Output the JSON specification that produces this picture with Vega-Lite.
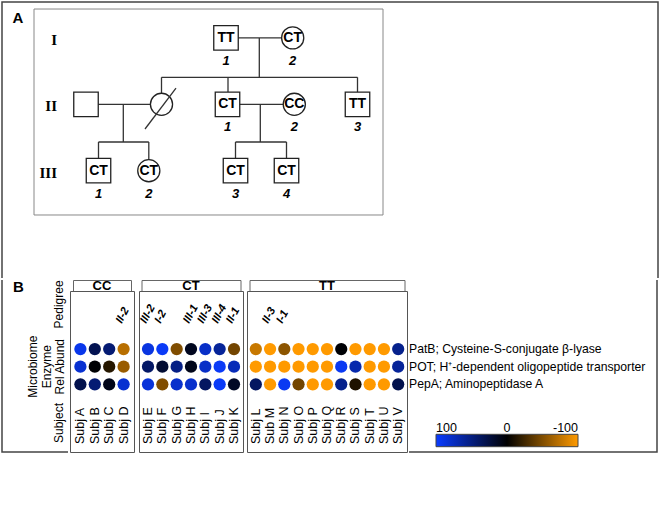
{
  "$schema": "https://vega.github.io/schema/vega-lite/v6.json",
  "padding": {"left": 1, "top": 1, "right": 5, "bottom": 5},
  "background": "white",
  "config": {
    "font": "Liberation Sans",
    "view": {"stroke": "#555"},
    "legend": {"labelFont": "Liberation Sans"}
  },
  "datasets": {
    "people": [
      {"id": "I-1", "gen": 1, "col": 22.4, "sex": "M", "geno": "TT", "num": "1"},
      {"id": "I-2", "gen": 1, "col": 29.07, "sex": "F", "geno": "CT", "num": "2"},
      {"id": "II-0", "gen": 2, "col": 8.4, "sex": "M", "geno": "", "num": ""},
      {"id": "II-d", "gen": 2, "col": 15.95, "sex": "F", "geno": "", "num": ""},
      {"id": "II-1", "gen": 2, "col": 22.55, "sex": "M", "geno": "CT", "num": "1"},
      {"id": "II-2", "gen": 2, "col": 29.23, "sex": "F", "geno": "CC", "num": "2"},
      {"id": "II-3", "gen": 2, "col": 35.55, "sex": "M", "geno": "TT", "num": "3"},
      {"id": "III-1", "gen": 3, "col": 9.65, "sex": "M", "geno": "CT", "num": "1"},
      {"id": "III-2", "gen": 3, "col": 14.68, "sex": "F", "geno": "CT", "num": "2"},
      {"id": "III-3", "gen": 3, "col": 23.35, "sex": "M", "geno": "CT", "num": "3"},
      {"id": "III-4", "gen": 3, "col": 28.45, "sex": "M", "geno": "CT", "num": "4"}
    ],
    "generations": [
      {"gen": 1, "roman": "I"},
      {"gen": 2, "roman": "II"},
      {"gen": 3, "roman": "III"}
    ],
    "links": [
      {"col": 22.4, "col2": 29.07, "gen": 1, "gen2": 1},
      {"col": 25.73, "col2": 25.73, "gen": 1, "gen2": 1.593},
      {"col": 15.95, "col2": 35.55, "gen": 1.593, "gen2": 1.593},
      {"col": 15.95, "col2": 15.95, "gen": 1.593, "gen2": 2},
      {"col": 22.6, "col2": 22.6, "gen": 1.593, "gen2": 2},
      {"col": 35.55, "col2": 35.55, "gen": 1.593, "gen2": 2},
      {"col": 8.4, "col2": 15.95, "gen": 2, "gen2": 2},
      {"col": 12.13, "col2": 12.13, "gen": 2, "gen2": 2.568},
      {"col": 9.65, "col2": 14.68, "gen": 2.568, "gen2": 2.568},
      {"col": 9.65, "col2": 9.65, "gen": 2.568, "gen2": 3},
      {"col": 14.68, "col2": 14.68, "gen": 2.568, "gen2": 3},
      {"col": 22.55, "col2": 29.23, "gen": 2, "gen2": 2},
      {"col": 25.83, "col2": 25.83, "gen": 2, "gen2": 2.568},
      {"col": 23.35, "col2": 28.45, "gen": 2.568, "gen2": 2.568},
      {"col": 23.35, "col2": 23.35, "gen": 2.568, "gen2": 3},
      {"col": 28.45, "col2": 28.45, "gen": 2.568, "gen2": 3}
    ],
    "deceased": [
      {"col": 14.3, "col2": 17.4, "gen": 2.372, "gen2": 1.755}
    ],
    "enzymes": [
      {"enzyme": "PatB; Cysteine-S-conjugate β-lyase"},
      {"enzyme": "POT; H⁺-dependent oligopeptide transporter"},
      {"enzyme": "PepA; Aminopeptidase A"}
    ],
    "subjects": [
      {"id": "A", "label": "Subj A", "group": "CC", "ped": "", "PatB; Cysteine-S-conjugate β-lyase": 92, "POT; H⁺-dependent oligopeptide transporter": 82, "PepA; Aminopeptidase A": 30},
      {"id": "B", "label": "Subj B", "group": "CC", "ped": "", "PatB; Cysteine-S-conjugate β-lyase": 32, "POT; H⁺-dependent oligopeptide transporter": 1, "PepA; Aminopeptidase A": 45},
      {"id": "C", "label": "Subj C", "group": "CC", "ped": "", "PatB; Cysteine-S-conjugate β-lyase": 45, "POT; H⁺-dependent oligopeptide transporter": -15, "PepA; Aminopeptidase A": 10},
      {"id": "D", "label": "Subj D", "group": "CC", "ped": "II-2", "PatB; Cysteine-S-conjugate β-lyase": -72, "POT; H⁺-dependent oligopeptide transporter": -60, "PepA; Aminopeptidase A": 82},
      {"id": "E", "label": "Subj E", "group": "CT", "ped": "III-2", "PatB; Cysteine-S-conjugate β-lyase": 88, "POT; H⁺-dependent oligopeptide transporter": 40, "PepA; Aminopeptidase A": 85},
      {"id": "F", "label": "Subj F", "group": "CT", "ped": "I-2", "PatB; Cysteine-S-conjugate β-lyase": 97, "POT; H⁺-dependent oligopeptide transporter": 20, "PepA; Aminopeptidase A": -50},
      {"id": "G", "label": "Subj G", "group": "CT", "ped": "", "PatB; Cysteine-S-conjugate β-lyase": -50, "POT; H⁺-dependent oligopeptide transporter": 52, "PepA; Aminopeptidase A": 80},
      {"id": "H", "label": "Subj H", "group": "CT", "ped": "III-1", "PatB; Cysteine-S-conjugate β-lyase": 12, "POT; H⁺-dependent oligopeptide transporter": 10, "PepA; Aminopeptidase A": 80},
      {"id": "I", "label": "Subj I", "group": "CT", "ped": "III-3", "PatB; Cysteine-S-conjugate β-lyase": 78, "POT; H⁺-dependent oligopeptide transporter": 78, "PepA; Aminopeptidase A": 38},
      {"id": "J", "label": "Subj J", "group": "CT", "ped": "III-4", "PatB; Cysteine-S-conjugate β-lyase": 60, "POT; H⁺-dependent oligopeptide transporter": 97, "PepA; Aminopeptidase A": 97},
      {"id": "K", "label": "Subj K", "group": "CT", "ped": "II-1", "PatB; Cysteine-S-conjugate β-lyase": -45, "POT; H⁺-dependent oligopeptide transporter": 72, "PepA; Aminopeptidase A": 15},
      {"id": "L", "label": "Subj L", "group": "TT", "ped": "", "PatB; Cysteine-S-conjugate β-lyase": -78, "POT; H⁺-dependent oligopeptide transporter": -100, "PepA; Aminopeptidase A": 38},
      {"id": "M", "label": "Sub M", "group": "TT", "ped": "II-3", "PatB; Cysteine-S-conjugate β-lyase": -100, "POT; H⁺-dependent oligopeptide transporter": -100, "PepA; Aminopeptidase A": -100},
      {"id": "N", "label": "Subj N", "group": "TT", "ped": "I-1", "PatB; Cysteine-S-conjugate β-lyase": -55, "POT; H⁺-dependent oligopeptide transporter": -100, "PepA; Aminopeptidase A": 95},
      {"id": "O", "label": "Subj O", "group": "TT", "ped": "", "PatB; Cysteine-S-conjugate β-lyase": -100, "POT; H⁺-dependent oligopeptide transporter": -100, "PepA; Aminopeptidase A": -45},
      {"id": "P", "label": "Subj P", "group": "TT", "ped": "", "PatB; Cysteine-S-conjugate β-lyase": -100, "POT; H⁺-dependent oligopeptide transporter": -100, "PepA; Aminopeptidase A": -100},
      {"id": "Q", "label": "Subj Q", "group": "TT", "ped": "", "PatB; Cysteine-S-conjugate β-lyase": -100, "POT; H⁺-dependent oligopeptide transporter": -100, "PepA; Aminopeptidase A": -100},
      {"id": "R", "label": "Subj R", "group": "TT", "ped": "", "PatB; Cysteine-S-conjugate β-lyase": 2, "POT; H⁺-dependent oligopeptide transporter": 95, "PepA; Aminopeptidase A": 55},
      {"id": "S", "label": "Subj S", "group": "TT", "ped": "", "PatB; Cysteine-S-conjugate β-lyase": -100, "POT; H⁺-dependent oligopeptide transporter": 68, "PepA; Aminopeptidase A": -12},
      {"id": "T", "label": "Subj T", "group": "TT", "ped": "", "PatB; Cysteine-S-conjugate β-lyase": -100, "POT; H⁺-dependent oligopeptide transporter": -100, "PepA; Aminopeptidase A": -100},
      {"id": "U", "label": "Subj U", "group": "TT", "ped": "", "PatB; Cysteine-S-conjugate β-lyase": -100, "POT; H⁺-dependent oligopeptide transporter": -100, "PepA; Aminopeptidase A": -100},
      {"id": "V", "label": "Subj V", "group": "TT", "ped": "", "PatB; Cysteine-S-conjugate β-lyase": 55, "POT; H⁺-dependent oligopeptide transporter": 60, "PepA; Aminopeptidase A": 30}
    ]
  },
  "spacing": 0,
  "vconcat": [
    {
      "width": 656,
      "height": 276,
      "view": {"stroke": "#444", "strokeWidth": 1.5, "strokeDash": [932, 656, 276]},
      "layer": [
        {
          "data": {"name": "links"},
          "mark": {"type": "rule", "color": "#333", "strokeWidth": 1.3},
          "encoding": {
            "x": {"field": "col", "type": "quantitative", "scale": {"domain": [0, 65.6], "nice": false, "zero": false}, "axis": null},
            "x2": {"field": "col2"},
            "y": {"field": "gen", "type": "quantitative", "scale": {"domain": [0.4593, 4.616], "reverse": true, "nice": false, "zero": false}, "axis": null},
            "y2": {"field": "gen2"}
          }
        },
        {
          "data": {"name": "people"},
          "transform": [{"filter": "datum.sex === 'M'"}],
          "mark": {"type": "point", "shape": "square", "size": 600, "filled": true, "fill": "white", "stroke": "#222", "strokeWidth": 1.3, "opacity": 1},
          "encoding": {
            "x": {"field": "col", "type": "quantitative", "axis": null},
            "y": {"field": "gen", "type": "quantitative", "axis": null}
          }
        },
        {
          "data": {"name": "people"},
          "transform": [{"filter": "datum.sex === 'F'"}],
          "mark": {"type": "point", "shape": "circle", "size": 490, "filled": true, "fill": "white", "stroke": "#222", "strokeWidth": 1.3, "opacity": 1},
          "encoding": {
            "x": {"field": "col", "type": "quantitative", "axis": null},
            "y": {"field": "gen", "type": "quantitative", "axis": null}
          }
        },
        {
          "data": {"name": "deceased"},
          "mark": {"type": "rule", "color": "#333", "strokeWidth": 1.3},
          "encoding": {
            "x": {"field": "col", "type": "quantitative", "axis": null},
            "x2": {"field": "col2"},
            "y": {"field": "gen", "type": "quantitative", "axis": null},
            "y2": {"field": "gen2"}
          }
        },
        {
          "data": {"name": "people"},
          "mark": {"type": "text", "fontSize": 14, "fontWeight": "bold", "align": "center", "baseline": "middle", "color": "black"},
          "encoding": {
            "x": {"field": "col", "type": "quantitative", "axis": null},
            "y": {"field": "gen", "type": "quantitative", "axis": null},
            "text": {"field": "geno"}
          }
        },
        {
          "data": {"name": "people"},
          "mark": {"type": "text", "fontSize": 13, "fontWeight": "bold", "fontStyle": "italic", "align": "center", "baseline": "middle", "dy": 23, "color": "black"},
          "encoding": {
            "x": {"field": "col", "type": "quantitative", "axis": null},
            "y": {"field": "gen", "type": "quantitative", "axis": null},
            "text": {"field": "num"}
          }
        },
        {
          "data": {"name": "generations"},
          "mark": {"type": "text", "font": "Liberation Serif", "fontSize": 15, "fontWeight": "bold", "align": "right", "baseline": "middle", "dy": 2, "color": "black"},
          "encoding": {
            "x": {"datum": 5.5, "axis": null},
            "y": {"field": "gen", "type": "quantitative", "axis": null},
            "text": {"field": "roman"}
          }
        },
        {
          "data": {"values": [{"box": "A"}]},
          "mark": {"type": "rect", "filled": false, "stroke": "#888", "strokeWidth": 1},
          "encoding": {
            "x": {"datum": 3.2, "axis": null},
            "x2": {"datum": 38.1},
            "y": {"datum": 0.565, "axis": null},
            "y2": {"datum": 3.667}
          }
        },
        {
          "data": {"values": [{"panel": "A"}]},
          "mark": {"type": "text", "fontSize": 15, "fontWeight": "bold", "align": "center", "baseline": "middle", "color": "black"},
          "encoding": {
            "x": {"datum": 1.6, "axis": null},
            "y": {"datum": 0.7, "axis": null},
            "text": {"field": "panel"}
          }
        }
      ]
    },
    {
      "spacing": 0,
      "hconcat": [
        {
          "width": 66,
          "height": 172,
          "view": {"stroke": "#444", "strokeWidth": 1.5, "strokeDash": [0, 238, 238]},
          "layer": [
            {
              "data": {"values": [{"panel": "B"}]},
              "mark": {"type": "text", "x": 0, "y": 0, "align": "left", "baseline": "top", "dx": 11, "dy": 0, "fontSize": 15, "fontWeight": "bold", "color": "black"},
              "encoding": {"text": {"field": "panel"}}
            },
            {
              "data": {"values": [{"t": "Pedigree", "row": "Pedigree"}]},
              "mark": {"type": "text", "angle": 270, "align": "left", "baseline": "bottom", "fontSize": 12, "x": "width", "dx": 3, "dy": -2, "color": "black"},
              "encoding": {
                "y": {"field": "row", "type": "nominal", "scale": {"type": "point", "domain": ["Pedigree", "PatB; Cysteine-S-conjugate β-lyase", "POT; H⁺-dependent oligopeptide transporter", "PepA; Aminopeptidase A", "Subject"], "range": [51.4, 122], "padding": 0}, "axis": null},
                "text": {"field": "t"}
              }
            },
            {
              "data": {"values": [{"t": ["Microbiome", "Enzyme", "Rel Abund"], "row": "POT; H⁺-dependent oligopeptide transporter"}]},
              "mark": {"type": "text", "angle": 270, "align": "center", "baseline": "bottom", "fontSize": 12, "lineHeight": 13.5, "x": "width", "dy": -28, "color": "black"},
              "encoding": {
                "y": {"field": "row", "type": "nominal", "axis": null},
                "text": {"field": "t"}
              }
            },
            {
              "data": {"values": [{"t": "Subject", "row": "Subject"}]},
              "mark": {"type": "text", "angle": 270, "align": "right", "baseline": "bottom", "fontSize": 12, "x": "width", "dx": -1, "dy": -2, "color": "black"},
              "encoding": {
                "y": {"field": "row", "type": "nominal", "axis": null},
                "text": {"field": "t"}
              }
            }
          ]
        },
        {
          "spacing": 2,
          "hconcat": [
            {
              "spacing": 0,
              "center": true,
              "bounds": "flush",
              "vconcat": [
                {
                  "width": 58, "height": 11,
                  "view": {"stroke": "#666"},
                  "data": {"values": [{"group": "CC"}]},
                  "mark": {"type": "text", "fontSize": 13, "fontWeight": "bold", "color": "black"},
                  "encoding": {"text": {"field": "group"}}
                },
                {
                  "width": 64, "height": 161,
                  "view": {"stroke": "#555"},
                  "data": {"name": "subjects"},
                  "transform": [{"filter": "datum.group === 'CC'"}],
                  "layer": [
                    {
                      "transform": [{"fold": ["PatB; Cysteine-S-conjugate β-lyase", "POT; H⁺-dependent oligopeptide transporter", "PepA; Aminopeptidase A"], "as": ["enzyme", "abund"]}],
                      "mark": {"type": "circle", "size": 150, "opacity": 1},
                      "encoding": {
                        "x": {"field": "id", "type": "nominal", "scale": {"type": "point", "padding": 0.722}, "axis": null},
                        "y": {"field": "enzyme", "type": "nominal",
                          "scale": {"type": "point", "domain": ["Pedigree", "PatB; Cysteine-S-conjugate β-lyase", "POT; H⁺-dependent oligopeptide transporter", "PepA; Aminopeptidase A", "Subject"], "range": [40.4, 111], "padding": 0},
                          "axis": null},
                        "color": {"field": "abund", "type": "quantitative",
                          "scale": {"domain": [100, 0, -100], "range": ["#0a3cff", "#000000", "#ff9a00"], "interpolate": "rgb", "nice": false, "zero": false},
                          "legend": {"orient": "none", "legendX": 434, "legendY": 432.3, "direction": "horizontal", "gradientLength": 142, "gradientThickness": 12.4, "title": null, "values": [100, 0, -100], "labelExpr": "replace(datum.label, '−', '-')", "labelOffset": -25, "labelFontSize": 12.5, "labelColor": "black", "gradientStrokeColor": "#444", "gradientStrokeWidth": 1, "padding": 0, "labelOverlap": false}}
                      }
                    },
                    {
                      "transform": [{"filter": "datum.ped !== ''"}],
                      "mark": {"type": "text", "angle": 298, "align": "left", "baseline": "alphabetic", "fontSize": 11.2, "fontWeight": "bold", "fontStyle": "italic", "dx": 5.6, "dy": -5.2, "color": "black"},
                      "encoding": {
                        "x": {"field": "id", "type": "nominal", "axis": null},
                        "y": {"datum": "Pedigree", "type": "nominal", "axis": null},
                        "text": {"field": "ped"}
                      }
                    },
                    {
                      "mark": {"type": "text", "angle": 270, "align": "left", "baseline": "middle", "fontSize": 12.5, "y": "height", "dx": 8, "color": "black"},
                      "encoding": {
                        "x": {"field": "id", "type": "nominal", "axis": null},
                        "text": {"field": "label"}
                      }
                    }
                  ]
                }
              ]
            },
            {
              "spacing": 0,
              "center": true,
              "bounds": "flush",
              "vconcat": [
                {
                  "width": 99, "height": 11,
                  "view": {"stroke": "#666"},
                  "data": {"values": [{"group": "CT"}]},
                  "mark": {"type": "text", "fontSize": 13, "fontWeight": "bold", "color": "black"},
                  "encoding": {"text": {"field": "group"}}
                },
                {
                  "width": 104, "height": 161,
                  "view": {"stroke": "#555"},
                  "data": {"name": "subjects"},
                  "transform": [{"filter": "datum.group === 'CT'"}],
                  "layer": [
                    {
                      "transform": [{"fold": ["PatB; Cysteine-S-conjugate β-lyase", "POT; H⁺-dependent oligopeptide transporter", "PepA; Aminopeptidase A"], "as": ["enzyme", "abund"]}],
                      "mark": {"type": "circle", "size": 150, "opacity": 1},
                      "encoding": {
                        "x": {"field": "id", "type": "nominal", "scale": {"type": "point", "padding": 0.629}, "axis": null},
                        "y": {"field": "enzyme", "type": "nominal",
                          "scale": {"type": "point", "domain": ["Pedigree", "PatB; Cysteine-S-conjugate β-lyase", "POT; H⁺-dependent oligopeptide transporter", "PepA; Aminopeptidase A", "Subject"], "range": [40.4, 111], "padding": 0},
                          "axis": null},
                        "color": {"field": "abund", "type": "quantitative",
                          "scale": {"domain": [100, 0, -100], "range": ["#0a3cff", "#000000", "#ff9a00"], "interpolate": "rgb", "nice": false, "zero": false}}
                      }
                    },
                    {
                      "transform": [{"filter": "datum.ped !== ''"}],
                      "mark": {"type": "text", "angle": 298, "align": "left", "baseline": "alphabetic", "fontSize": 11.2, "fontWeight": "bold", "fontStyle": "italic", "dx": 5.6, "dy": -5.2, "color": "black"},
                      "encoding": {
                        "x": {"field": "id", "type": "nominal", "axis": null},
                        "y": {"datum": "Pedigree", "type": "nominal", "axis": null},
                        "text": {"field": "ped"}
                      }
                    },
                    {
                      "mark": {"type": "text", "angle": 270, "align": "left", "baseline": "middle", "fontSize": 12.5, "y": "height", "dx": 8, "color": "black"},
                      "encoding": {
                        "x": {"field": "id", "type": "nominal", "axis": null},
                        "text": {"field": "label"}
                      }
                    }
                  ]
                }
              ]
            },
            {
              "spacing": 0,
              "center": true,
              "bounds": "flush",
              "vconcat": [
                {
                  "width": 155, "height": 11,
                  "view": {"stroke": "#666"},
                  "data": {"values": [{"group": "TT"}]},
                  "mark": {"type": "text", "fontSize": 13, "fontWeight": "bold", "color": "black"},
                  "encoding": {"text": {"field": "group"}}
                },
                {
                  "width": 160, "height": 161,
                  "view": {"stroke": "#555"},
                  "data": {"name": "subjects"},
                  "transform": [{"filter": "datum.group === 'TT'"}],
                  "layer": [
                    {
                      "transform": [{"fold": ["PatB; Cysteine-S-conjugate β-lyase", "POT; H⁺-dependent oligopeptide transporter", "PepA; Aminopeptidase A"], "as": ["enzyme", "abund"]}],
                      "mark": {"type": "circle", "size": 150, "opacity": 1},
                      "encoding": {
                        "x": {"field": "id", "type": "nominal", "scale": {"type": "point", "padding": 0.62}, "axis": null},
                        "y": {"field": "enzyme", "type": "nominal",
                          "scale": {"type": "point", "domain": ["Pedigree", "PatB; Cysteine-S-conjugate β-lyase", "POT; H⁺-dependent oligopeptide transporter", "PepA; Aminopeptidase A", "Subject"], "range": [40.4, 111], "padding": 0},
                          "axis": null},
                        "color": {"field": "abund", "type": "quantitative",
                          "scale": {"domain": [100, 0, -100], "range": ["#0a3cff", "#000000", "#ff9a00"], "interpolate": "rgb", "nice": false, "zero": false}}
                      }
                    },
                    {
                      "transform": [{"filter": "datum.ped !== ''"}],
                      "mark": {"type": "text", "angle": 298, "align": "left", "baseline": "alphabetic", "fontSize": 11.2, "fontWeight": "bold", "fontStyle": "italic", "dx": 5.6, "dy": -5.2, "color": "black"},
                      "encoding": {
                        "x": {"field": "id", "type": "nominal", "axis": null},
                        "y": {"datum": "Pedigree", "type": "nominal", "axis": null},
                        "text": {"field": "ped"}
                      }
                    },
                    {
                      "mark": {"type": "text", "angle": 270, "align": "left", "baseline": "middle", "fontSize": 12.5, "y": "height", "dx": 8, "color": "black"},
                      "encoding": {
                        "x": {"field": "id", "type": "nominal", "axis": null},
                        "text": {"field": "label"}
                      }
                    }
                  ]
                }
              ]
            }
          ]
        },
        {
          "width": 248,
          "height": 172,
          "view": {"stroke": "#444", "strokeWidth": 1.5, "strokeDash": [0, 248, 420, 172]},
          "data": {"name": "enzymes"},
          "mark": {"type": "text", "align": "left", "baseline": "middle", "fontSize": 12.2, "x": 0, "dx": 0, "color": "black"},
          "encoding": {
            "y": {"field": "enzyme", "type": "nominal", "scale": {"type": "point", "domain": ["Pedigree", "PatB; Cysteine-S-conjugate β-lyase", "POT; H⁺-dependent oligopeptide transporter", "PepA; Aminopeptidase A", "Subject"], "range": [51.4, 122], "padding": 0}, "axis": null},
            "text": {"field": "enzyme"}
          }
        }
      ]
    }
  ]
}
